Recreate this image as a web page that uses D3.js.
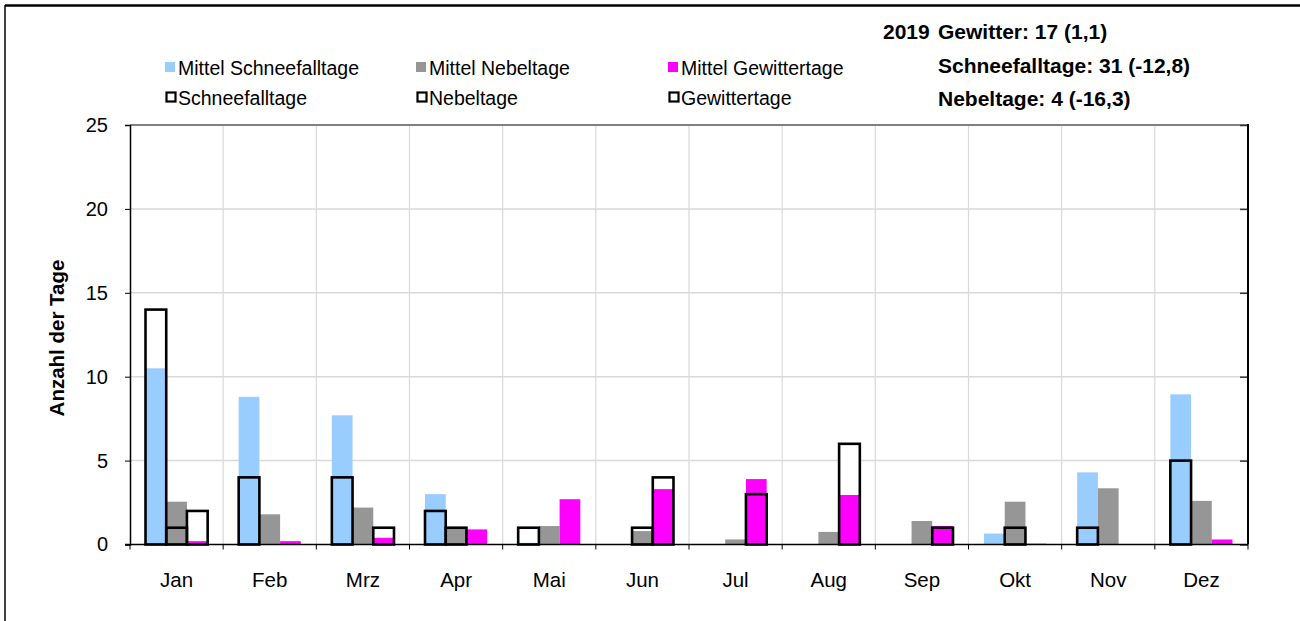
<!DOCTYPE html>
<html><head><meta charset="utf-8">
<script src="https://cdn.jsdelivr.net/npm/d3@7"></script>
<style>
html,body{margin:0;padding:0;background:#fff;}
text{font-family:"Liberation Sans",Arial,sans-serif;}
</style></head>
<body>
<svg id="c" width="1300" height="621"></svg>
<script>
const months = ["Jan","Feb","Mrz","Apr","Mai","Jun","Jul","Aug","Sep","Okt","Nov","Dez"];
const mittelSchnee = [10.5, 8.8, 7.7, 3.0, 0.1, 0, 0, 0, 0, 0.65, 4.3, 8.95];
const mittelNebel = [2.55, 1.8, 2.2, 1.05, 1.1, 0.8, 0.3, 0.75, 1.4, 2.55, 3.35, 2.6];
const mittelGewitter = [0.2, 0.2, 0.4, 0.9, 2.7, 3.3, 3.9, 2.95, 1.1, 0.05, 0, 0.3];
const schnee2019 = [14, 4, 4, 2, 1, 0, 0, 0, 0, 0, 1, 5];
const nebel2019 = [1, 0, 0, 1, 0, 1, 0, 0, 0, 1, 0, 0];
const gewitter2019 = [2, 0, 1, 0, 0, 4, 3, 6, 1, 0, 0, 0];
const yTicks = [0, 5, 10, 15, 20, 25];
const seriesKeys = ["schnee","nebel","gewitter"];
const legendMittel = ["Mittel Schneefalltage","Mittel Nebeltage","Mittel Gewittertage"];
const legendYear = ["Schneefalltage","Nebeltage","Gewittertage"];
const colors = ["#99ccff","#969696","#ff00ff"];
const summary = ["Gewitter: 17 (1,1)","Schneefalltage: 31 (-12,8)","Nebeltage: 4 (-16,3)"];

const svg = d3.select("#c");
const L = 130, R = 1248, T = 125, B = 544.5;

// outer frame
svg.append("line").attr("x1",5).attr("x2",1300).attr("y1",5.5).attr("y2",5.5).attr("stroke","#000").attr("stroke-width",2.5);
svg.append("line").attr("x1",5).attr("x2",5).attr("y1",5).attr("y2",621).attr("stroke","#000").attr("stroke-width",1.5);

const x = d3.scaleBand().domain(months).range([L,R]).paddingInner(0.333).paddingOuter(0.1665);
const xs = d3.scaleBand().domain(seriesKeys).range([0,x.bandwidth()]);
const y = d3.scaleLinear().domain([0,25]).range([B,T]);
const step = x.step();

// gridlines
const g = svg.append("g");
g.selectAll(".hg").data(yTicks.filter(d=>d>0 && d<25)).enter().append("line")
 .attr("x1",L).attr("x2",R).attr("y1",d=>y(d)).attr("y2",d=>y(d))
 .attr("stroke","#d9d9d9").attr("stroke-width",1.5);
g.selectAll(".vg").data(months.slice(1)).enter().append("line")
 .attr("x1",(d,i)=>L+(i+1)*step).attr("x2",(d,i)=>L+(i+1)*step).attr("y1",T).attr("y2",B)
 .attr("stroke","#d9d9d9").attr("stroke-width",1.2);
// top border of plot
svg.append("line").attr("x1",L).attr("x2",R).attr("y1",T).attr("y2",T).attr("stroke","#808080").attr("stroke-width",2);

const mittel = [mittelSchnee, mittelNebel, mittelGewitter];
const year = [schnee2019, nebel2019, gewitter2019];

function boxData(){
  const out=[];
  year.forEach((arr,si)=>arr.forEach((v,mi)=>{ if(v>0) out.push({m:months[mi],k:seriesKeys[si],v}); }));
  return out;
}
function barData(){
  const out=[];
  mittel.forEach((arr,si)=>arr.forEach((v,mi)=>{ if(v>0) out.push({m:months[mi],k:seriesKeys[si],v,c:colors[si]}); }));
  return out;
}
// white-filled boxes behind
svg.append("g").selectAll("rect").data(boxData()).enter().append("rect")
 .attr("x",d=>x(d.m)+xs(d.k)).attr("width",xs.bandwidth())
 .attr("y",d=>y(d.v)).attr("height",d=>B-y(d.v)).attr("fill","#fff");
// mittel bars
svg.append("g").selectAll("rect").data(barData()).enter().append("rect")
 .attr("x",d=>x(d.m)+xs(d.k)).attr("width",xs.bandwidth())
 .attr("y",d=>y(d.v)).attr("height",d=>B-y(d.v)).attr("fill",d=>d.c);
// box outlines on top
svg.append("g").selectAll("rect").data(boxData()).enter().append("rect")
 .attr("x",d=>x(d.m)+xs(d.k)).attr("width",xs.bandwidth())
 .attr("y",d=>y(d.v)).attr("height",d=>B-y(d.v))
 .attr("fill","none").attr("stroke","#000").attr("stroke-width",2.6);

// left axis
const yAxis = d3.axisLeft(y).tickValues(yTicks).tickSize(5).tickPadding(7);
const ya = svg.append("g").attr("transform",`translate(${L},0)`).call(yAxis);
ya.select(".domain").attr("stroke","#000").attr("stroke-width",1.5);
ya.selectAll(".tick line").attr("stroke","#000");
ya.selectAll("text").attr("font-size",20).attr("fill","#000").attr("font-family","Liberation Sans, Arial, sans-serif").attr("dx",-10);
// right axis (ticks inward)
const yAxisR = d3.axisLeft(y).tickValues(yTicks).tickSize(8).tickFormat("");
const yr = svg.append("g").attr("transform",`translate(${R},0)`).call(yAxisR);
yr.select(".domain").remove();
yr.append("line").attr("x1",0).attr("x2",0).attr("y1",T-1).attr("y2",B).attr("stroke","#000").attr("stroke-width",2);
yr.selectAll(".tick line").attr("stroke","#333").attr("stroke-width",1.5);

// bottom axis
svg.append("line").attr("x1",L-5).attr("x2",R).attr("y1",B).attr("y2",B).attr("stroke","#000").attr("stroke-width",1.5);
svg.append("g").selectAll("line").data(d3.range(months.length+1)).enter().append("line")
 .attr("x1",i=>L+i*step).attr("x2",i=>L+i*step).attr("y1",B).attr("y2",B+5).attr("stroke","#000").attr("stroke-width",1);
svg.append("g").selectAll("text").data(months).enter().append("text")
 .attr("x",d=>L+months.indexOf(d)*step+step/2).attr("y",587)
 .attr("text-anchor","middle").attr("font-size",20.5).text(d=>d);

// y title
svg.append("text").attr("transform","translate(64,338) rotate(-90)").attr("text-anchor","middle")
 .attr("font-size",20.5).attr("font-weight","bold").text("Anzahl der Tage");

// legend
const lx = [165, 416, 668];
legendMittel.forEach((t,i)=>{
  svg.append("rect").attr("x",lx[i]).attr("y",62).attr("width",10).attr("height",10).attr("fill",colors[i]);
  svg.append("text").attr("x",lx[i]+13).attr("y",75).attr("font-size",19.5).text(t);
});
legendYear.forEach((t,i)=>{
  svg.append("rect").attr("x",lx[i]+1.5).attr("y",92.5).attr("width",9).attr("height",9).attr("fill","none").attr("stroke","#000").attr("stroke-width",2.2);
  svg.append("text").attr("x",lx[i]+13).attr("y",105).attr("font-size",19.5).text(t);
});

// summary
svg.append("text").attr("x",883).attr("y",39).attr("font-size",21).attr("font-weight","bold").text("2019");
const sy = [39, 73, 106];
summary.forEach((t,i)=>{
  svg.append("text").attr("x",938).attr("y",sy[i]).attr("font-size",21).attr("font-weight","bold").text(t);
});
</script>
</body></html>
